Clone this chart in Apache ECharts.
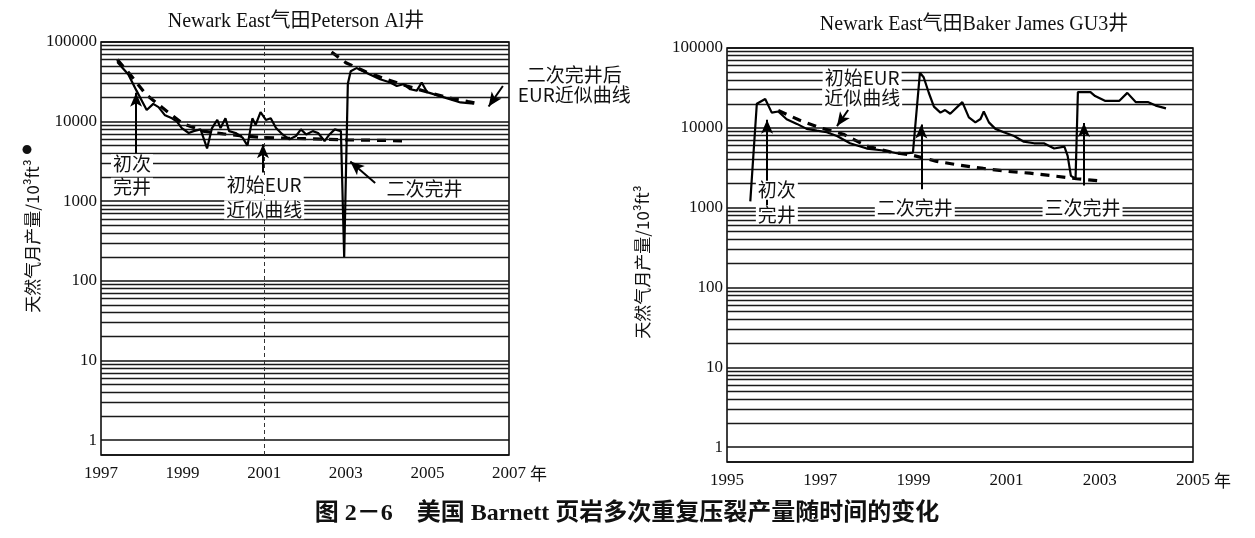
<!DOCTYPE html>
<html><head><meta charset="utf-8">
<script src="https://cdn.jsdelivr.net/npm/echarts@6/dist/echarts.min.js"></script>
<style>html,body{margin:0;padding:0;background:#fff}#c{width:1255px;height:538px}</style>
</head><body><div id="c"></div>
<script>
// ---------------- data ----------------
const leftTitle = 'Newark East气田Peterson Al井';
const rightTitle = 'Newark East气田Baker James GU3井';
const yAxisTitle = '天然气月产量/10³ft³';
const caption = '图 2－6　美国 Barnett 页岩多次重复压裂产量随时间的变化';
const leftYearRange = [1997, 2007];
const rightYearRange = [1995, 2005];
const yTickLabels = [1, 10, 100, 1000, 10000, 100000];
const yearUnit = '年';

// Peterson Al well: monthly gas production [year, 10^3 ft^3]
const petersonProduction = [
  [1997.40,56000],[1997.67,39000],[1997.87,24500],[1998.02,17500],[1998.12,14000],[1998.28,16700],
  [1998.41,15200],[1998.57,12000],[1998.74,11000],[1998.86,10000],[1998.98,8300],[1999.15,7200],
  [1999.27,7600],[1999.44,8000],[1999.60,4600],[1999.72,8300],[1999.85,10500],[1999.93,8300],
  [2000.05,11000],[2000.14,7600],[2000.30,7200],[2000.47,6300],[2000.59,5000],[2000.71,11000],
  [2000.79,9100],[2000.91,13200],[2001.04,10500],[2001.16,11000],[2001.29,8300],[2001.45,6900],
  [2001.62,6000],[2001.78,6600],[2001.90,8000],[2002.03,6900],[2002.19,7600],[2002.32,7200],
  [2002.48,5700],[2002.60,6900],[2002.73,8000],[2002.88,7600],[2002.96,200],[2003.05,30000],
  [2003.12,43000],[2003.26,47000],[2003.43,43000],[2003.59,39000],[2003.84,34000],[2004.09,31000],
  [2004.25,28000],[2004.41,29500],[2004.58,25500],[2004.74,24500],[2004.86,31000],[2004.99,23500],
  [2005.23,21500],[2005.57,19000],[2005.81,17400],[2006.14,16800]
];
const petersonInitialEUR = [
  [1997.40,60000],[1997.70,40000],[1998.10,22000],[1998.50,15000],[1999.00,9500],[1999.50,7600],
  [2000.00,7000],[2000.50,6600],[2001.00,6300],[2002.00,6100],[2003.00,5900],[2004.00,5800],[2004.50,5700]
];
const petersonRefracEUR = [
  [2002.65,75000],[2003.00,55000],[2003.50,42000],[2004.00,34000],[2004.50,28000],[2005.00,23500],
  [2005.50,20000],[2006.00,17800],[2006.20,17000]
];

// Baker James GU3 well
const bakerProduction = [
  [1995.50,1200],[1995.64,20000],[1995.82,23000],[1995.96,15500],[1996.10,16000],[1996.28,12800],
  [1996.50,11200],[1996.71,9700],[1996.93,9200],[1997.14,8800],[1997.36,7900],[1997.64,6400],
  [1998.00,5500],[1998.36,5200],[1998.72,4700],[1998.99,4900],[1999.14,49000],[1999.22,43000],
  [1999.33,27500],[1999.44,18400],[1999.58,15500],[1999.68,16700],[1999.79,15000],[2000.05,21000],
  [2000.19,13500],[2000.33,11700],[2000.44,12900],[2000.51,16000],[2000.62,11700],[2000.76,9700],
  [2000.94,8800],[2001.16,7900],[2001.37,6700],[2001.59,6400],[2001.80,6400],[2002.02,5500],
  [2002.24,5800],[2002.31,4450],[2002.38,2500],[2002.48,2300],[2002.53,28000],[2002.80,28000],
  [2002.90,25000],[2003.11,21800],[2003.42,21800],[2003.59,27400],[2003.77,21000],[2004.03,21000],
  [2004.20,19000],[2004.42,17500]
];
const bakerInitialEUR = [
  [1996.10,16500],[1996.55,12500],[1997.00,10000],[1997.50,8300],[1998.00,5900],[1998.50,5000],
  [1999.00,4500],[1999.50,3800],[2000.00,3400],[2000.50,3100],[2001.00,2850],[2001.50,2700],
  [2002.00,2500],[2002.50,2300],[2003.05,2150]
];

// annotations: [text, year, value]
const leftNotes = [
  ['初次',1997.76,2950],['完井',1997.76,1500],['初始EUR',2001.0,1600],['近似曲线',2001.0,780],
  ['二次完井',2004.93,1450],['二次完井后',2008.6,39000],['EUR近似曲线',2008.6,22000]
];
const leftArrows = [
  [[1997.86,4000],[1997.86,23000]],[[2000.97,2300],[2000.97,5200]],
  [[2003.72,1700],[2003.11,3150]],[[2006.85,28000],[2006.5,15500]]
];
const rightNotes = [
  ['初次',1996.07,1650],['完井',1996.07,820],['初始EUR',1997.9,42000],['近似曲线',1997.9,24000],
  ['二次完井',1999.03,1000],['三次完井',2002.63,1000]
];
const rightArrows = [
  [[1995.86,800],[1995.86,12600]],[[1997.60,16700],[1997.36,10500]],
  [[1999.17,1700],[1999.17,11000]],[[2002.66,1900],[2002.66,11500]]
];

// ---------------- chart ----------------
const SERIF = '"Liberation Serif","Noto Sans CJK SC",serif';
const CJK = '"Noto Sans CJK SC","Liberation Serif",sans-serif';
const chart = echarts.init(document.getElementById('c'));

function gridLines(extra) {
  const a = [];
  for (let e = 0; e < 5; e++) for (let m = 2; m <= 9; m++) a.push({ yAxis: m * Math.pow(10, e) });
  return a.concat(extra || []);
}
function isDecade(v) { const l = Math.log10(v); return Math.abs(l - Math.round(l)) < 1e-6 && yTickLabels.includes(Math.round(v)); }

function xAxisOf(i, range) {
  return { type: 'value', gridIndex: i, min: range[0], max: range[1], interval: 2,
    axisLine: { show: false }, axisTick: { show: false }, splitLine: { show: false },
    axisLabel: { color: '#111', fontFamily: SERIF, fontSize: 17, margin: 10, formatter: v => String(v) } };
}
function yAxisOf(i) {
  return { type: 'log', logBase: 10, gridIndex: i, min: 0.65, max: 100000,
    axisLine: { show: false }, axisTick: { show: false },
    splitLine: { show: true, lineStyle: { color: '#111', width: 1.6 } },
    axisLabel: { color: '#111', fontFamily: SERIF, fontSize: 17, margin: 4,
      formatter: v => isDecade(v) ? String(Math.round(v)) : '' } };
}
function arrowsSeries(i, arr) {
  return { type: 'line', xAxisIndex: i, yAxisIndex: i, data: [], silent: true, z: 6,
    markLine: { silent: true, animation: false, symbol: ['none', 'arrow'], symbolSize: [9, 14],
      label: { show: false }, lineStyle: { color: '#000', width: 2, type: 'solid' },
      data: arr.map(a => [{ coord: a[0] }, { coord: a[1] }]) } };
}
function lineSeries(i, data, dashed, extraLines) {
  const s = { type: 'line', xAxisIndex: i, yAxisIndex: i, data: data, symbol: 'none', silent: true,
    z: dashed ? 4 : 5, animation: false,
    lineStyle: dashed ? { color: '#000', width: 3.2, type: [9, 7] } : { color: '#000', width: 2.2 } };
  if (extraLines) s.markLine = { silent: true, animation: false, symbol: ['none', 'none'], label: { show: false },
    lineStyle: { color: '#1a1a1a', width: 1.4, type: 'solid' }, data: extraLines };
  return s;
}

chart.setOption({
  animation: false,
  backgroundColor: '#fff',
  grid: [
    { left: 101, right: 746, top: 42, bottom: 83, show: true, borderColor: '#000', borderWidth: 1.5, backgroundColor: 'transparent' },
    { left: 727, right: 62, top: 48, bottom: 76, show: true, borderColor: '#000', borderWidth: 1.5, backgroundColor: 'transparent' }
  ],
  xAxis: [xAxisOf(0, leftYearRange), xAxisOf(1, rightYearRange)],
  yAxis: [yAxisOf(0), yAxisOf(1)],
  series: [
    lineSeries(0, petersonInitialEUR, true, gridLines([{ xAxis: 2001, lineStyle: { type: [4, 3], width: 1, color: '#333' } }])),
    lineSeries(0, petersonRefracEUR, true),
    lineSeries(0, petersonProduction, false),
    arrowsSeries(0, leftArrows),
    lineSeries(1, bakerInitialEUR, true, gridLines()),
    lineSeries(1, bakerProduction, false),
    arrowsSeries(1, rightArrows)
  ]
});

const g = [];
function addNotes(i, notes) {
  notes.forEach(([t, x, y]) => {
    const p = chart.convertToPixel({ gridIndex: i }, [x, y]);
    g.push({ type: 'text', x: p[0], y: p[1], z: 50,
      style: { text: t, fill: '#111', font: '19px ' + CJK, align: 'center', verticalAlign: 'middle',
        backgroundColor: '#fff', padding: [0, 2] } });
  });
}
addNotes(0, leftNotes);
addNotes(1, rightNotes);
function addTitle(i, t, range, cx, cy) {
  g.push({ type: 'text', x: cx, y: cy, z: 50,
    style: { text: t, fill: '#111', font: '20px ' + SERIF, align: 'center', verticalAlign: 'middle' } });
  const pe = chart.convertToPixel({ gridIndex: i }, [range[1], 0.65]);
  g.push({ type: 'text', x: pe[0] + 21, y: pe[1] + 19, z: 50,
    style: { text: yearUnit, fill: '#111', font: '17px ' + CJK, align: 'left', verticalAlign: 'middle' } });
}
addTitle(0, leftTitle, leftYearRange, 296, 22);
addTitle(1, rightTitle, rightYearRange, 974, 25);
g.push({ type: 'text', x: 33, y: 236, rotation: Math.PI / 2, z: 50,
  style: { text: yAxisTitle, fill: '#111', font: '17px ' + CJK, align: 'center', verticalAlign: 'middle' } });
g.push({ type: 'text', x: 27, y: 150, z: 50,
  style: { text: '●', fill: '#111', font: '10px ' + CJK, align: 'center', verticalAlign: 'middle' } });
g.push({ type: 'text', x: 643, y: 262, rotation: Math.PI / 2, z: 50,
  style: { text: yAxisTitle, fill: '#111', font: '17px ' + CJK, align: 'center', verticalAlign: 'middle' } });
g.push({ type: 'text', x: 627, y: 514, z: 50,
  style: { text: caption, fill: '#111', font: 'bold 24px ' + SERIF, align: 'center', verticalAlign: 'middle' } });
chart.setOption({ graphic: g });
</script>
</body></html>
